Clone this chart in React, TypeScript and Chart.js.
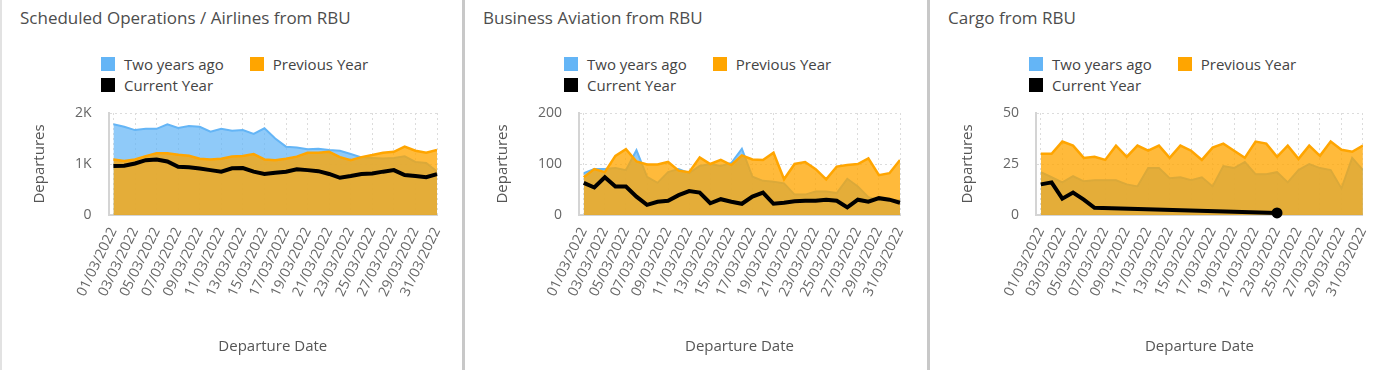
import React, { useEffect, useRef } from "react";
import { Chart, registerables } from "chart.js";

Chart.register(...registerables);

const dates = [
  "01/03/2022", "02/03/2022", "03/03/2022", "04/03/2022", "05/03/2022", "06/03/2022",
  "07/03/2022", "08/03/2022", "09/03/2022", "10/03/2022", "11/03/2022", "12/03/2022",
  "13/03/2022", "14/03/2022", "15/03/2022", "16/03/2022", "17/03/2022", "18/03/2022",
  "19/03/2022", "20/03/2022", "21/03/2022", "22/03/2022", "23/03/2022", "24/03/2022",
  "25/03/2022", "26/03/2022", "27/03/2022", "28/03/2022", "29/03/2022", "30/03/2022",
  "31/03/2022",
];

const seriesNames = ["Two years ago", "Previous Year", "Current Year"];

const opsTwoYearsAgo = [1780, 1730, 1665, 1690, 1690, 1780, 1705, 1745, 1730, 1635, 1690, 1650, 1665, 1590, 1700, 1500, 1340, 1325, 1290, 1300, 1275, 1260, 1195, 1130, 1120, 1110, 1120, 1150, 1040, 1020, 850];
const opsPreviousYear = [1090, 1060, 1090, 1155, 1210, 1210, 1180, 1160, 1105, 1090, 1105, 1145, 1155, 1195, 1090, 1075, 1105, 1145, 1220, 1220, 1240, 1135, 1075, 1135, 1175, 1220, 1240, 1340, 1260, 1220, 1275];
const opsCurrentYear = [960, 965, 1010, 1075, 1090, 1050, 945, 935, 910, 880, 850, 915, 920, 850, 805, 830, 850, 895, 880, 860, 805, 730, 765, 805, 815, 850, 880, 785, 765, 740, 800];

const bizTwoYearsAgo = [82, 90, 90, 92, 88, 127, 75, 63, 84, 90, 82, 96, 100, 96, 102, 130, 75, 67, 65, 62, 40, 40, 46, 46, 43, 71, 56, 35, 29, 29, 29];
const bizPreviousYear = [74, 90, 84, 116, 129, 105, 99, 99, 104, 87, 84, 113, 100, 108, 98, 117, 109, 108, 122, 70, 100, 104, 90, 70, 95, 98, 100, 111, 78, 82, 108];
const bizCurrentYear = [63, 54, 74, 56, 56, 36, 20, 26, 28, 39, 47, 44, 23, 31, 26, 22, 36, 44, 22, 24, 27, 28, 28, 30, 28, 15, 30, 26, 33, 30, 24];

const cargoTwoYearsAgo = [21, 18.5, 16, 19, 16.5, 17, 17, 17, 15, 14, 23, 23, 18, 18.5, 17, 18.5, 14, 24, 23, 26, 20, 20, 21, 16, 22, 25, 23, 22, 13, 28, 22];
const cargoPreviousYear = [30, 30, 36, 34, 28, 28.5, 27, 34, 28.5, 34, 31.5, 34, 28, 34, 31.5, 27, 33, 35, 31.5, 28, 36, 35, 28.5, 34, 27.5, 34, 29, 36, 32, 31, 34];
const cargoCurrentYear = [15, 16, 8, 11, 7.5, 3.5, null, null, null, null, null, null, null, null, null, null, null, null, null, null, null, null, 1, null, null, null, null, null, null, null, null];

const FONT = "'Open Sans', sans-serif";
const BLUE = "#64B5F6";
const ORANGE = "#FFA500";

type PanelCfg = {
  title: string;
  two: (number | null)[];
  prev: (number | null)[];
  cur: (number | null)[];
  yMax: number;
  yStep: number;
  left: number;
  width: number;
  endMarker: boolean;
};

const panels: PanelCfg[] = [
  { title: "Scheduled Operations / Airlines from RBU", two: opsTwoYearsAgo, prev: opsPreviousYear, cur: opsCurrentYear, yMax: 2000, yStep: 1000, left: 3, width: 460, endMarker: false },
  { title: "Business Aviation from RBU", two: bizTwoYearsAgo, prev: bizPreviousYear, cur: bizCurrentYear, yMax: 200, yStep: 100, left: 466, width: 462, endMarker: false },
  { title: "Cargo from RBU", two: cargoTwoYearsAgo, prev: cargoPreviousYear, cur: cargoCurrentYear, yMax: 50, yStep: 25, left: 931, width: 457, endMarker: true },
];

const CANVAS_TOP = 100;
const CANVAS_H = 270;

function formatY(v: number) {
  return v >= 1000 ? v / 1000 + "K" : String(v);
}

function Panel({ p }: { p: PanelCfg }) {
  const ref = useRef<HTMLCanvasElement>(null);
  useEffect(() => {
    if (!ref.current) return;
    const toPts = (arr: (number | null)[]) => arr.map((y, i) => ({ x: i, y }));
    let lastIdx = -1;
    p.cur.forEach((v, i) => {
      if (v !== null) lastIdx = i;
    });
    const gridCommon = { color: "#dcdcdc", drawTicks: false, lineWidth: 1 };
    const borderCommon = { display: true, color: "#d4d4d4", width: 2, dash: [2, 3] };
    const chart = new Chart(ref.current, {
      type: "line",
      data: {
        datasets: [
          {
            label: seriesNames[2],
            data: toPts(p.cur),
            borderColor: "#000000",
            backgroundColor: "#000000",
            borderWidth: 4,
            fill: false,
            tension: 0,
            spanGaps: true,
            clip: false,
            pointRadius: (c: any) => (p.endMarker && c.dataIndex === lastIdx ? 5.5 : 0),
            pointBackgroundColor: "#000000",
            pointBorderWidth: 0,
            order: 0,
          },
          {
            label: seriesNames[1],
            data: toPts(p.prev),
            borderColor: ORANGE,
            backgroundColor: "rgba(255,165,0,0.77)",
            borderWidth: 2.5,
            fill: "origin",
            tension: 0,
            pointRadius: 0,
            order: 1,
          },
          {
            label: seriesNames[0],
            data: toPts(p.two),
            borderColor: BLUE,
            backgroundColor: "rgba(100,181,246,0.72)",
            borderWidth: 2,
            fill: "origin",
            tension: 0,
            pointRadius: 0,
            order: 2,
          },
        ],
      },
      options: {
        responsive: false,
        animation: false,
        events: [],
        layout: { padding: { top: 13, right: p.width - 434, bottom: 0, left: 0 } },
        plugins: {
          legend: { display: false },
          tooltip: { enabled: false },
          title: { display: false },
        },
        scales: {
          x: {
            type: "linear",
            min: -0.45,
            max: dates.length - 1,
            afterFit: (s: any) => {
              s.height = 155;
            },
            ticks: {
              stepSize: 2,
              includeBounds: false,
              autoSkip: false,
              minRotation: 64,
              maxRotation: 64,
              padding: 10,
              color: "#666666",
              font: { family: FONT, size: 14 },
              callback: (v: any) => dates[v as number] ?? "",
            },
            grid: gridCommon,
            border: borderCommon,
            title: {
              display: true,
              text: "Departure Date",
              color: "#555555",
              font: { family: FONT, size: 15 },
              padding: { top: 0, bottom: 14 },
            },
          },
          y: {
            min: 0,
            max: p.yMax,
            afterFit: (s: any) => {
              s.paddingTop = 0;
              s.paddingBottom = 0;
            },
            ticks: {
              stepSize: p.yStep,
              padding: 17,
              color: "#666666",
              font: { family: FONT, size: 14 },
              callback: (v: any) => formatY(v as number),
            },
            grid: gridCommon,
            border: borderCommon,
            title: {
              display: true,
              text: "Departures",
              color: "#555555",
              font: { family: FONT, size: 15 },
              padding: { top: 28, bottom: 9 },
            },
          },
        },
      },
    } as any);
    return () => chart.destroy();
  }, [p]);

  const legendItems = [
    { name: seriesNames[0], color: BLUE },
    { name: seriesNames[1], color: ORANGE },
  ];

  const box = (color: string) => (
    <span style={{ display: "inline-block", width: 14, height: 14, background: color, marginRight: 9 }} />
  );

  return (
    <div style={{ position: "absolute", left: p.left, top: 0, width: p.width, height: 370 }}>
      <div
        style={{
          position: "absolute",
          left: 17,
          top: 6,
          fontFamily: FONT,
          fontSize: 17,
          lineHeight: "24px",
          color: "#4d4d4d",
          whiteSpace: "nowrap",
        }}
      >
        {p.title}
      </div>
      <div
        style={{
          position: "absolute",
          left: 98,
          top: 54,
          display: "flex",
          alignItems: "center",
          height: 20,
          fontFamily: FONT,
          fontSize: 15,
          color: "#444444",
          whiteSpace: "nowrap",
        }}
      >
        {legendItems.map((it) => (
          <span key={it.name} style={{ display: "flex", alignItems: "center", marginRight: 26 }}>
            {box(it.color)}
            <span>{it.name}</span>
          </span>
        ))}
      </div>
      <div
        style={{
          position: "absolute",
          left: 98,
          top: 75,
          display: "flex",
          alignItems: "center",
          height: 20,
          fontFamily: FONT,
          fontSize: 15,
          color: "#444444",
          whiteSpace: "nowrap",
        }}
      >
        {box("#000000")}
        <span>{seriesNames[2]}</span>
      </div>
      <canvas
        ref={ref}
        width={p.width}
        height={CANVAS_H}
        style={{ position: "absolute", left: 0, top: CANVAS_TOP, width: p.width, height: CANVAS_H }}
      />
    </div>
  );
}

export default function App() {
  return (
    <div style={{ position: "absolute", left: 0, top: 0, width: 1388, height: 370, background: "#ffffff", overflow: "hidden" }}>
      <div style={{ position: "absolute", left: 0, top: 0, width: 2, height: 370, background: "#e2e2e2" }} />
      <div style={{ position: "absolute", left: 462, top: 0, width: 3, height: 370, background: "#c8c8c8" }} />
      <div style={{ position: "absolute", left: 927, top: 0, width: 3, height: 370, background: "#c8c8c8" }} />
      {panels.map((p) => (
        <Panel key={p.title} p={p} />
      ))}
    </div>
  );
}
